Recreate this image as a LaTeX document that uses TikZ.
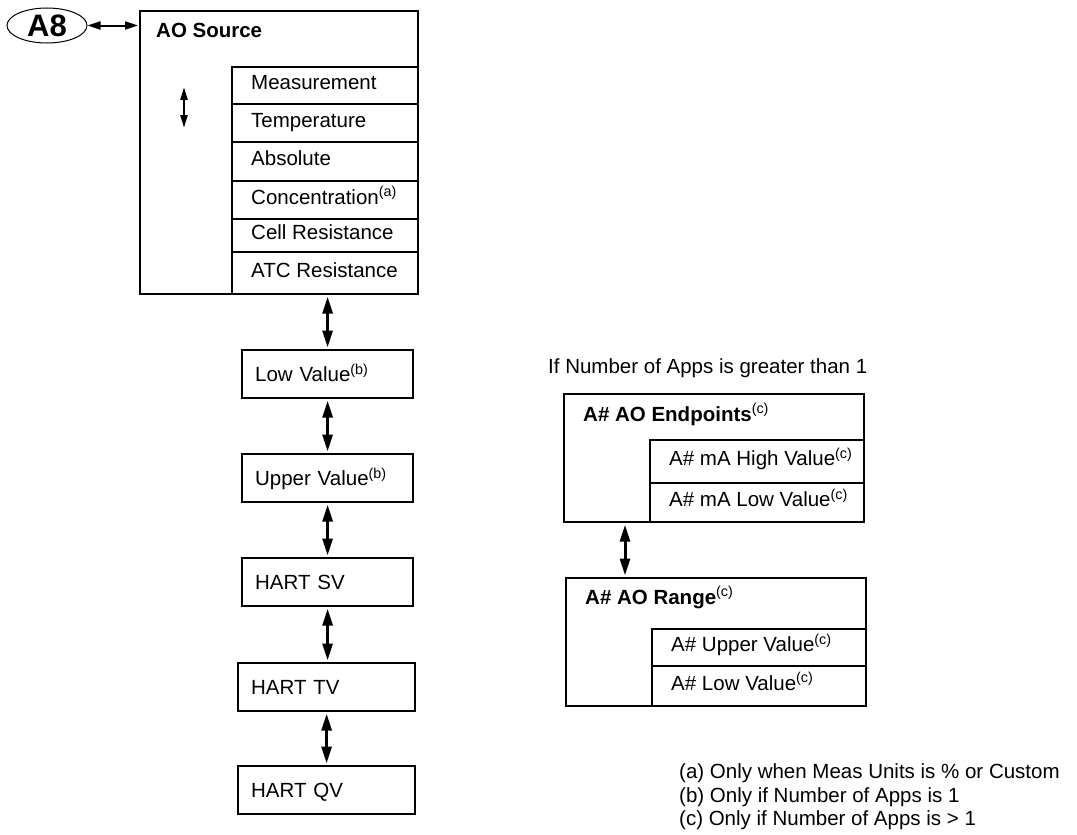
\documentclass[tikz,border=0pt]{standalone}
\usepackage{fontspec}
\setmainfont{Liberation Sans}
\usepackage{tikz}
\usetikzlibrary{arrows.meta, positioning, shapes.geometric}
\newcommand{\noteref}[1]{\textsuperscript{\mdseries(#1)}}

\begin{document}
\begin{tikzpicture}[x=1pt, y=-1pt,
    every node/.style={font=\fontsize{20.5}{24}\selectfont},
    menu/.style={draw, line width=2.2pt, anchor=north west, inner sep=0pt},
    heading/.style={anchor=base west, inner sep=0pt,
                    font=\bfseries\fontsize{20.5}{24}\selectfont},
    choice/.style={draw, line width=1.6pt, anchor=north west, inner sep=0pt,
                   label={[choicetext]west:#1}},
    choicetext/.style={anchor=west, inner sep=0pt, xshift=20pt, yshift=3pt,
                       text height=15pt, text depth=0pt},
    stepbox/.style={draw, line width=2.2pt, anchor=north west, minimum height=48pt,
                    inner xsep=13pt, text width=145pt, align=left,
                    text height=15pt, text depth=0pt},
    updown/.style={<->, >={Triangle[length=17pt,width=10pt]}, line width=3pt,
                   shorten <=1.5pt, shorten >=1.5pt},
    sidearrow/.style={<->, >={Triangle[length=13pt,width=8pt]}, line width=2pt,
                      shorten >=1pt},
    scrollarrow/.style={<->, >={Triangle[length=13pt,width=7pt]}, line width=2.4pt},
  ]
  \useasboundingbox (0,0) rectangle (1077,835);

  % AO Source menu
  \node[ellipse, draw, line width=1pt, inner sep=0pt, minimum width=80pt, minimum height=35pt,
        font=\bfseries\fontsize{31}{31}\selectfont] (a8) at (47,25.5) {A8};
  \node[choice=Measurement, minimum width=186pt, minimum height=37pt] (meas) at (231,66) {};
  \node[choice=Temperature, minimum width=186pt, minimum height=38pt] (temp) at (231,103) {};
  \node[choice=Absolute, minimum width=186pt, minimum height=39pt] (abs) at (231,141) {};
  \node[choice={Concentration\noteref{a}}, minimum width=186pt, minimum height=38pt] (conc) at (231,180) {};
  \node[choice={Cell Resistance}, minimum width=186pt, minimum height=33pt] (cell) at (231,218) {};
  \node[choice={ATC Resistance}, minimum width=186pt, minimum height=42pt] (atc) at (231,251) {};
  \node[menu, minimum width=278pt, minimum height=283pt] (src) at (139,10) {};
  \node[heading] (srctitle) at (156,37.5) {AO Source};
  \coordinate (scrolltop) at (184,87);
  \coordinate (scrollbot) at (184,128);

  % steps when there is one app
  \node[stepbox] (low) at (241,349) {Low Value\noteref{b}};
  \node[stepbox] (upper) at (241,453) {Upper Value\noteref{b}};
  \node[stepbox] (sv) at (241,557) {HART SV};
  \node[stepbox, text width=151pt] (tv) at (237,662) {HART TV};
  \node[stepbox, text width=151pt] (qv) at (237,765) {HART QV};

  \draw[sidearrow] (a8.east) -- (a8.east -| src.west);
  \draw[scrollarrow] (scrolltop) -- (scrollbot);
  \draw[updown] (low.north |- src.south) -- (low.north);
  \draw[updown] (low.south) -- (upper.north);
  \draw[updown] (upper.south) -- (sv.north);
  \draw[updown] (sv.south) -- (sv.south |- tv.north);
  \draw[updown] (tv.south) -- (qv.north);

  % menus when there are more apps
  \node[anchor=base west, inner sep=0pt] (cond) at (548,373) {If Number of Apps is greater than 1};
  \node[choice={A\# mA High Value\noteref{c}}, minimum width=214pt, minimum height=43pt] (mahigh) at (649,439) {};
  \node[choice={A\# mA Low Value\noteref{c}}, minimum width=214pt, minimum height=39pt] (malow) at (649,482) {};
  \node[menu, minimum width=300pt, minimum height=128pt] (ep) at (563,393) {};
  \node[heading] (eptitle) at (583,421) {A\# AO Endpoints\noteref{c}};
  \node[choice={A\# Upper Value\noteref{c}}, minimum width=214pt, minimum height=37pt] (rupper) at (651,628) {};
  \node[choice={A\# Low Value\noteref{c}}, minimum width=214pt, minimum height=40pt] (rlow) at (651,665) {};
  \node[menu, minimum width=300pt, minimum height=128pt] (rng) at (565,577) {};
  \node[heading] (rngtitle) at (585,604) {A\# AO Range\noteref{c}};
  \coordinate (eplink) at ([xshift=62pt]ep.south west);
  \draw[updown] (eplink) -- (eplink |- rng.north);

  % footnotes
  \node[anchor=west, align=left, inner sep=0pt, font=\fontsize{20.5}{23.5}\selectfont] (notes) at (679,797)
    {(a) Only when Meas Units is \% or Custom\\(b) Only if Number of Apps is 1\\(c) Only if Number of Apps is > 1};
\end{tikzpicture}
\end{document}
